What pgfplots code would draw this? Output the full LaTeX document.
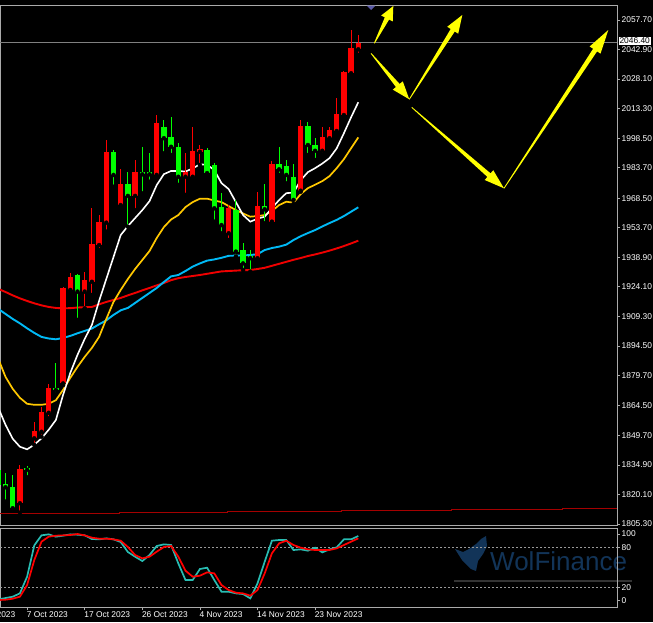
\documentclass[border=0pt]{standalone}
\usepackage{fontspec}
\setmainfont{Liberation Sans}
\usepackage{pgfplots}
\usepackage{pgfplotstable}
\pgfplotsset{compat=1.18}
\usetikzlibrary{calc}

\definecolor{candleup}{RGB}{255,0,0}
\definecolor{candledn}{RGB}{0,255,0}
\definecolor{maw}{RGB}{255,255,255}
\definecolor{may}{RGB}{255,200,0}
\definecolor{mac}{RGB}{0,185,245}
\definecolor{mar}{RGB}{240,0,0}
\definecolor{darkred}{RGB}{165,0,0}
\definecolor{stk}{RGB}{40,188,178}
\definecolor{std}{RGB}{255,0,0}
\definecolor{framegray}{RGB}{170,170,170}
\definecolor{logoblue}{RGB}{18,52,88}
\definecolor{arrowyellow}{RGB}{255,255,0}

% red = rising bar, green = falling bar (terminal colour scheme)
\pgfplotstableread{
k  o      h      l      c
3  1815.7 1834.9 1811.0 1832.7
5  1848.2 1856.5 1844.9 1852.0
6  1851.5 1864.0 1849.0 1861.5
7  1861.0 1875.4 1858.2 1873.6
9  1875.7 1924.0 1874.9 1923.3
10 1922.5 1931.2 1920.8 1929.2
12 1921.7 1931.7 1913.3 1927.5
13 1926.6 1963.4 1920.0 1945.5
14 1945.0 1960.0 1942.5 1956.7
15 1956.2 1997.6 1951.7 1991.7
17 1965.0 1982.9 1964.2 1975.6
19 1969.6 1987.6 1962.5 1981.7
22 1980.1 2010.1 1979.2 2006.3
26 1979.2 1991.0 1970.1 1981.7
27 1979.2 2004.3 1978.8 1992.2
28 1991.7 1995.1 1985.1 1992.9
32 1950.9 1965.0 1947.5 1963.4
36 1938.4 1971.7 1937.9 1964.7
38 1956.7 1987.2 1955.9 1985.6
42 1972.2 2007.6 1971.7 2004.6
45 1992.2 2004.0 1990.1 1999.0
46 1998.5 2004.0 1996.8 2002.6
47 2002.1 2018.5 2000.1 2010.5
48 2010.1 2032.0 2009.3 2031.5
49 2031.0 2052.7 2030.2 2043.5
50 2043.0 2050.2 2040.2 2046.4
}\upcandles

\pgfplotstableread{
k  o      h      l      c
0  1832.4 1834.9 1819.8 1824.8
1  1825.2 1831.0 1816.5 1823.7
2  1824.0 1829.8 1812.6 1813.2
4  1833.0 1834.4 1828.7 1832.4
8  1873.2 1885.8 1870.4 1872.4
11 1930.0 1930.5 1907.5 1921.7
16 1991.7 1992.6 1974.2 1980.1
18 1975.6 1981.7 1954.2 1969.6
20 1981.6 1994.2 1970.9 1980.4
21 1981.0 1991.3 1976.7 1980.4
23 2004.3 2007.6 1990.9 1998.5
24 1999.3 2009.3 1990.1 1994.2
25 1994.2 1996.0 1975.1 1979.2
29 1992.6 1993.4 1980.1 1981.0
30 1985.1 1985.9 1956.7 1963.4
31 1963.9 1971.2 1950.9 1955.0
33 1962.5 1967.6 1939.2 1941.7
34 1942.5 1945.9 1932.5 1935.8
35 1939.5 1942.5 1931.7 1938.4
37 1964.5 1975.6 1955.9 1962.9
39 1985.6 1994.2 1980.1 1982.9
40 1984.4 1987.6 1975.9 1980.1
41 1979.2 1985.6 1965.6 1967.6
43 2004.6 2006.8 1990.1 1995.1
44 1995.1 1998.5 1987.6 1992.2
}\dncandles

\pgfplotstableread{
k  white  yellow cyan   red
0  1863.5 1888.0 1913.0 1923.0
1  1855.0 1879.0 1910.5 1921.5
2  1848.0 1873.0 1908.0 1919.8
3  1844.0 1868.5 1905.8 1918.3
4  1842.7 1865.5 1903.3 1917.0
5  1845.0 1865.0 1901.0 1915.8
6  1848.2 1865.0 1899.0 1914.8
7  1852.5 1865.5 1898.2 1914.0
8  1857.4 1867.3 1897.8 1913.5
9  1870.0 1872.5 1898.5 1913.3
10 1881.0 1878.5 1899.5 1913.4
11 1890.0 1884.0 1900.8 1913.7
12 1898.0 1889.0 1902.0 1913.9
13 1905.0 1893.5 1903.2 1914.0
14 1917.0 1899.0 1905.3 1915.3
15 1928.0 1908.0 1907.3 1916.5
16 1939.0 1916.5 1910.0 1917.5
17 1950.0 1922.5 1912.3 1918.5
18 1954.5 1928.0 1913.5 1919.8
19 1958.5 1933.0 1916.0 1921.0
20 1962.5 1937.5 1918.5 1922.3
21 1967.0 1942.0 1921.0 1923.5
22 1975.0 1948.5 1923.5 1924.8
23 1980.5 1954.0 1926.5 1926.0
24 1982.1 1957.8 1929.3 1927.4
25 1982.1 1960.0 1930.0 1928.4
26 1981.8 1964.0 1932.0 1929.0
27 1983.4 1966.5 1934.2 1929.5
28 1985.4 1968.2 1935.8 1930.0
29 1985.2 1968.2 1937.2 1930.6
30 1982.5 1967.3 1937.8 1931.2
31 1976.0 1966.5 1938.6 1931.8
32 1973.0 1964.5 1939.6 1932.0
33 1966.5 1962.5 1939.7 1932.2
34 1960.0 1960.8 1939.8 1932.4
35 1956.7 1959.2 1940.0 1932.5
36 1958.2 1959.5 1940.4 1933.0
37 1959.2 1960.0 1942.5 1933.6
38 1963.5 1962.0 1943.5 1934.6
39 1967.5 1965.0 1944.2 1935.6
40 1971.0 1966.7 1945.2 1936.6
41 1971.2 1966.2 1947.5 1937.6
42 1977.5 1970.5 1949.4 1938.5
43 1981.5 1973.5 1951.0 1939.5
44 1983.5 1975.2 1952.5 1940.3
45 1985.8 1977.0 1954.3 1941.2
46 1988.5 1979.5 1956.0 1942.2
47 1993.4 1983.5 1957.6 1943.3
48 2001.0 1988.0 1959.5 1944.5
49 2009.0 1993.5 1961.7 1945.8
50 2016.5 1998.9 1963.9 1947.2
}\mas

\pgfplotstableread{
k  K     D
0  2.0   1.0
1  4.0   1.5
2  6.0   3.0
3  11.0  6.0
4  36.0  23.5
5  83.0  61.0
6  98.0  88.5
7  99.5  96.0
8  96.0  97.5
9  97.5  98.0
10 99.5  98.5
11 99.0  100.0
12 98.0  98.0
13 92.5  94.5
14 92.0  93.0
15 93.5  93.0
16 92.0  92.0
17 88.0  90.0
18 73.0  80.5
19 66.0  68.5
20 59.5  63.5
21 68.5  66.0
22 82.0  73.5
23 84.5  80.5
24 83.5  82.0
25 56.0  66.0
26 31.0  45.0
27 31.0  36.0
28 47.5  37.5
29 49.5  42.5
30 31.0  41.0
31 13.5  23.5
32 13.5  16.0
33 11.0  12.0
34 10.0  11.0
35 3.5   7.5
36 26.0  16.0
37 58.5  41.0
38 90.0  71.0
39 91.0  86.0
40 91.0  90.0
41 76.0  83.5
42 77.0  79.5
43 75.0  77.0
44 79.5  76.0
45 72.5  76.0
46 77.0  76.0
47 80.0  78.5
48 92.0  83.5
49 92.0  88.5
50 97.0  93.5
}\stoch

\pgfplotsset{
  panel/.style={
    scale only axis, width=617pt,
    xmin=0.236, xmax=85.93,
    axis line style={framegray},
    ytick pos=right, yticklabel pos=right,
    tick align=outside, major tick length=3pt,
    tick style={framegray, line width=0.6pt},
    ticklabel style={font=\fontsize{8.4}{9}\selectfont, text=white},
    yticklabel style={anchor=west, inner sep=0pt, xshift=1.5pt},
  },
  % one bar from low (or body bottom) upwards
  wick/.style={only marks, mark=none,
    error bars/.cd, y dir=plus, y explicit, error mark=none,
    error bar style={draw=#1, solid, line width=1pt}},
  body/.style={only marks, mark=none,
    error bars/.cd, y dir=plus, y explicit, error mark=none,
    error bar style={draw=#1, solid, line width=5.3pt}},
}

\newcommand{\yarrow}[5]{% tail x,y  head x,y (px)  head length
  \coordinate (A) at (#1pt,-#2pt);
  \coordinate (B) at (#3pt,-#4pt);
  \coordinate (H) at ($(B)!#5pt!(A)$);
  \fill[arrowyellow] ($(A)!0.4pt!90:(B)$) -- ($(H)!2.4pt!90:(B)$) -- ($(H)!6.5pt!90:(B)$)
    -- (B) -- ($(H)!6.5pt!-90:(B)$) -- ($(H)!2.4pt!-90:(B)$) -- ($(A)!0.4pt!-90:(B)$) -- cycle;
}

\begin{document}
\begin{tikzpicture}
\useasboundingbox (0,0) rectangle (653pt,-622pt);
\fill[black] (0,0) rectangle (653pt,-622pt);

% watermark (behind the indicator)
\fill[logoblue] (471pt,-569pt) -- (462pt,-560pt) -- (455pt,-549pt) -- (463pt,-552pt) -- (469pt,-549pt)
  -- (476pt,-544pt) -- (481pt,-539pt) -- (486pt,-536pt) -- (487pt,-546pt) -- (483pt,-554pt)
  -- (478pt,-561pt) -- (476pt,-571pt) -- cycle;
\node[anchor=base west, inner sep=0pt, text=logoblue, font=\fontsize{26}{27}\selectfont] at (490pt,-570pt) {WolFinance};
\draw[gray!40!black, line width=1.2pt] (454pt,-581pt) -- (632pt,-581pt);

% ---- price panel ----
\begin{axis}[panel, at={(0pt,-5pt)}, anchor=north west, height=520pt,
  ymin=1804.8, ymax=2065.2, xtick=\empty,
  ytick={2057.7,2042.9,2028.1,2013.3,1998.5,1983.7,1968.5,1953.7,1938.9,1924.1,1909.3,1894.5,1879.7,1864.5,1849.7,1834.9,1820.1,1805.3},
  yticklabels={2057.70,2042.90,2028.10,2013.30,1998.50,1983.70,1968.50,1953.70,1938.90,1924.10,1909.30,1894.50,1879.70,1864.50,1849.70,1834.90,1820.10,1805.30},
]
  \addplot[darkred, line width=1pt] coordinates {(0.236,1810.7) (16.8,1810.7) (16.8,1811.2) (31.8,1811.2) (31.8,1811.7) (47.7,1811.7) (47.7,1812.1) (63,1812.1) (63,1812.5) (78.3,1812.5) (78.3,1812.9) (85.93,1812.9)};
  \addplot[gray, line width=0.9pt] coordinates {(0.236,2046.4) (85.93,2046.4)};

  \addplot[mar, line width=1.9pt] table[x=k, y=red] {\mas};
  \addplot[mac, line width=1.9pt] table[x=k, y=cyan] {\mas};
  \addplot[may, line width=1.7pt] table[x=k, y=yellow] {\mas};
  \addplot[maw, line width=1.6pt] table[x=k, y=white] {\mas};

  \addplot[wick=candleup] table[x=k, y=l, y error expr={\thisrow{h}-\thisrow{l}}] {\upcandles};
  \addplot[body=candleup] table[x=k, y expr={min(\thisrow{o},\thisrow{c})}, y error expr={max(abs(\thisrow{c}-\thisrow{o}),1.0)}] {\upcandles};
  \addplot[wick=candledn] table[x=k, y=l, y error expr={\thisrow{h}-\thisrow{l}}] {\dncandles};
  \addplot[body=candledn] table[x=k, y expr={min(\thisrow{o},\thisrow{c})}, y error expr={max(abs(\thisrow{c}-\thisrow{o}),1.0)}] {\dncandles};
\end{axis}

% ---- stochastic panel ----
\begin{axis}[panel, at={(0pt,-528pt)}, anchor=north west, height=79pt,
  ymin=-9.45, ymax=109,
  ytick={0,20,80,100}, yticklabels={0,20,80,100},
  xtick={4,12,20,28,36,44},
  xticklabels={7 Oct 2023,17 Oct 2023,26 Oct 2023,4 Nov 2023,14 Nov 2023,23 Nov 2023},
  xtick pos=bottom,
  xticklabel style={anchor=north west, inner sep=0pt, xshift=-0.5pt, yshift=-1.5pt},
]
  \addplot[gray!80, line width=0.8pt, dash pattern=on 2pt off 2pt] coordinates {(0.236,80) (85.93,80)};
  \addplot[gray!80, line width=0.8pt, dash pattern=on 2pt off 2pt] coordinates {(0.236,20) (85.93,20)};
  \addplot[stk, line width=1.7pt] table[x=k, y=K] {\stoch};
  \addplot[std, line width=1.7pt] table[x=k, y=D] {\stoch};
\end{axis}

% partially visible first date label
\node[anchor=north east, inner sep=0pt, text=white, font=\fontsize{8.4}{9}\selectfont] at (15.5pt,-611.5pt) {2023};

% current price label
\node[anchor=west, fill=white, text=black, inner sep=0.8pt, font=\fontsize{8.4}{9}\selectfont] at (618.5pt,-41pt) {2046.40};

% shift marker
\fill[gray!70!blue] (366.5pt,-5.5pt) -- (375.5pt,-5.5pt) -- (371pt,-10pt) -- cycle;

% forecast arrows
\yarrow{374.3}{43.3}{393.3}{6}{14}
\yarrow{371}{53.3}{409.3}{99.3}{18}
\yarrow{409.3}{99.3}{462.3}{15}{18}
\yarrow{411.7}{107.3}{504}{188.3}{20}
\yarrow{504}{188.3}{608.3}{30}{24}
\end{tikzpicture}
\end{document}
